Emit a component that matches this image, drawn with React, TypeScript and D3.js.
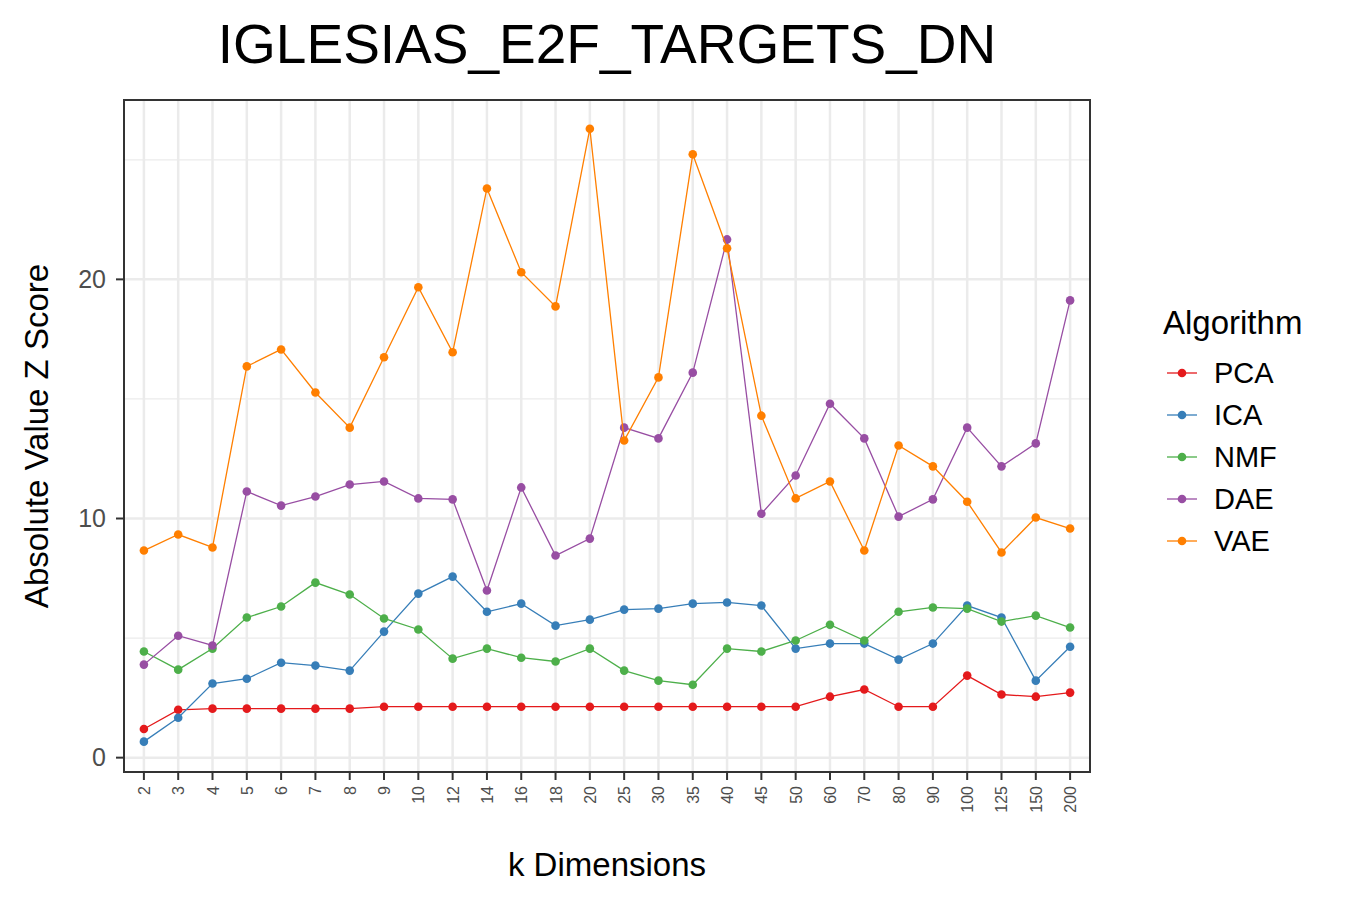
import * as d3 from "d3";

const kDims = ["2","3","4","5","6","7","8","9","10","12","14","16","18","20","25","30","35","40","45","50","60","70","80","90","100","125","150","200"];
const pca = [1.2,2.0,2.05,2.05,2.05,2.05,2.05,2.13,2.13,2.13,2.13,2.13,2.13,2.13,2.13,2.13,2.13,2.13,2.13,2.13,2.55,2.85,2.13,2.13,3.43,2.64,2.55,2.72];
const ica = [0.67,1.67,3.1,3.3,3.97,3.85,3.64,5.27,6.86,7.57,6.1,6.44,5.52,5.77,6.19,6.23,6.44,6.49,6.36,4.56,4.77,4.77,4.1,4.77,6.36,5.86,3.22,4.64];
const nmf = [4.44,3.68,4.56,5.86,6.32,7.32,6.82,5.82,5.36,4.14,4.56,4.18,4.02,4.56,3.64,3.22,3.05,4.56,4.44,4.9,5.56,4.9,6.1,6.28,6.23,5.69,5.94,5.44];
const dae = [3.89,5.1,4.69,11.13,10.54,10.92,11.42,11.55,10.84,10.8,6.99,11.3,8.45,9.16,13.8,13.35,16.1,21.67,10.2,11.8,14.8,13.35,10.08,10.8,13.8,12.18,13.14,19.12];
const vae = [8.66,9.33,8.79,16.36,17.07,15.27,13.8,16.74,19.67,16.95,23.8,20.3,18.87,26.3,13.26,15.9,25.23,21.3,14.3,10.84,11.55,8.66,13.05,12.18,10.7,8.58,10.04,9.58];
const algorithms = ["PCA","ICA","NMF","DAE","VAE"];
const colors = ["#e41a1c","#377eb8","#4daf4a","#984ea3","#ff7f00"];
const seriesList = [pca, ica, nmf, dae, vae];

export default function App() {
  const left = 124, right = 1090, top = 100, bottom = 772;
  const x = d3.scalePoint<string>().domain(kDims).range([left, right]).padding(0.58);
  const y = d3.scaleLinear().domain([-0.6, 27.5]).range([bottom, top]);
  const line = d3.line<number>().x((_, i) => x(kDims[i])!).y(d => y(d));
  const font = "Arial, 'Liberation Sans', sans-serif";

  return (
    <svg width={1350} height={900} style={{ position: "absolute", left: 0, top: 0, fontFamily: font }}>
      <rect width={1350} height={900} fill="#fff" />
      {/* grid */}
      {[5, 15, 25].map(v => (
        <line key={"m" + v} x1={left} x2={right} y1={y(v)} y2={y(v)} stroke="#ebebeb" strokeWidth={1.2} />
      ))}
      {[0, 10, 20].map(v => (
        <line key={"g" + v} x1={left} x2={right} y1={y(v)} y2={y(v)} stroke="#ebebeb" strokeWidth={2.5} />
      ))}
      {kDims.map(k => (
        <line key={"v" + k} x1={x(k)} x2={x(k)} y1={top} y2={bottom} stroke="#ebebeb" strokeWidth={2.5} />
      ))}
      {/* series */}
      {seriesList.map((s, si) => (
        <g key={algorithms[si]}>
          <path d={line(s)!} fill="none" stroke={colors[si]} strokeWidth={1.3} />
          {s.map((v, i) => (
            <circle key={i} cx={x(kDims[i])} cy={y(v)} r={4.3} fill={colors[si]} />
          ))}
        </g>
      ))}
      <rect x={left} y={top} width={right - left} height={bottom - top} fill="none" stroke="#333" strokeWidth={2} />
      {/* y axis */}
      {[0, 10, 20].map(v => (
        <g key={"yt" + v}>
          <line x1={left - 8} x2={left} y1={y(v)} y2={y(v)} stroke="#333" strokeWidth={2} />
          <text x={left - 18} y={y(v)} dy="0.35em" textAnchor="end" fontSize={25} fill="#4d4d4d">{v}</text>
        </g>
      ))}
      {/* x axis */}
      {kDims.map(k => (
        <g key={"xt" + k}>
          <line x1={x(k)} x2={x(k)} y1={bottom} y2={bottom + 8} stroke="#333" strokeWidth={2} />
          <text transform={`translate(${x(k)! + 6},${bottom + 14}) rotate(-90)`} textAnchor="end" fontSize={16} fill="#4d4d4d">{k}</text>
        </g>
      ))}
      <text x={607} y={63} textAnchor="middle" fontSize={55} fill="#000">IGLESIAS_E2F_TARGETS_DN</text>
      <text x={607} y={876} textAnchor="middle" fontSize={33} fill="#000">k Dimensions</text>
      <text transform={`translate(48,${(top + bottom) / 2}) rotate(-90)`} textAnchor="middle" fontSize={33} fill="#000">Absolute Value Z Score</text>
      {/* legend */}
      <text x={1163} y={334} fontSize={33} fill="#000">Algorithm</text>
      {algorithms.map((a, i) => {
        const ly = 373 + i * 42;
        return (
          <g key={"l" + a}>
            <line x1={1167} x2={1197} y1={ly} y2={ly} stroke={colors[i]} strokeWidth={1.3} />
            <circle cx={1182} cy={ly} r={4.3} fill={colors[i]} />
            <text x={1214} y={ly} dy="0.35em" fontSize={29} fill="#000">{a}</text>
          </g>
        );
      })}
    </svg>
  );
}
